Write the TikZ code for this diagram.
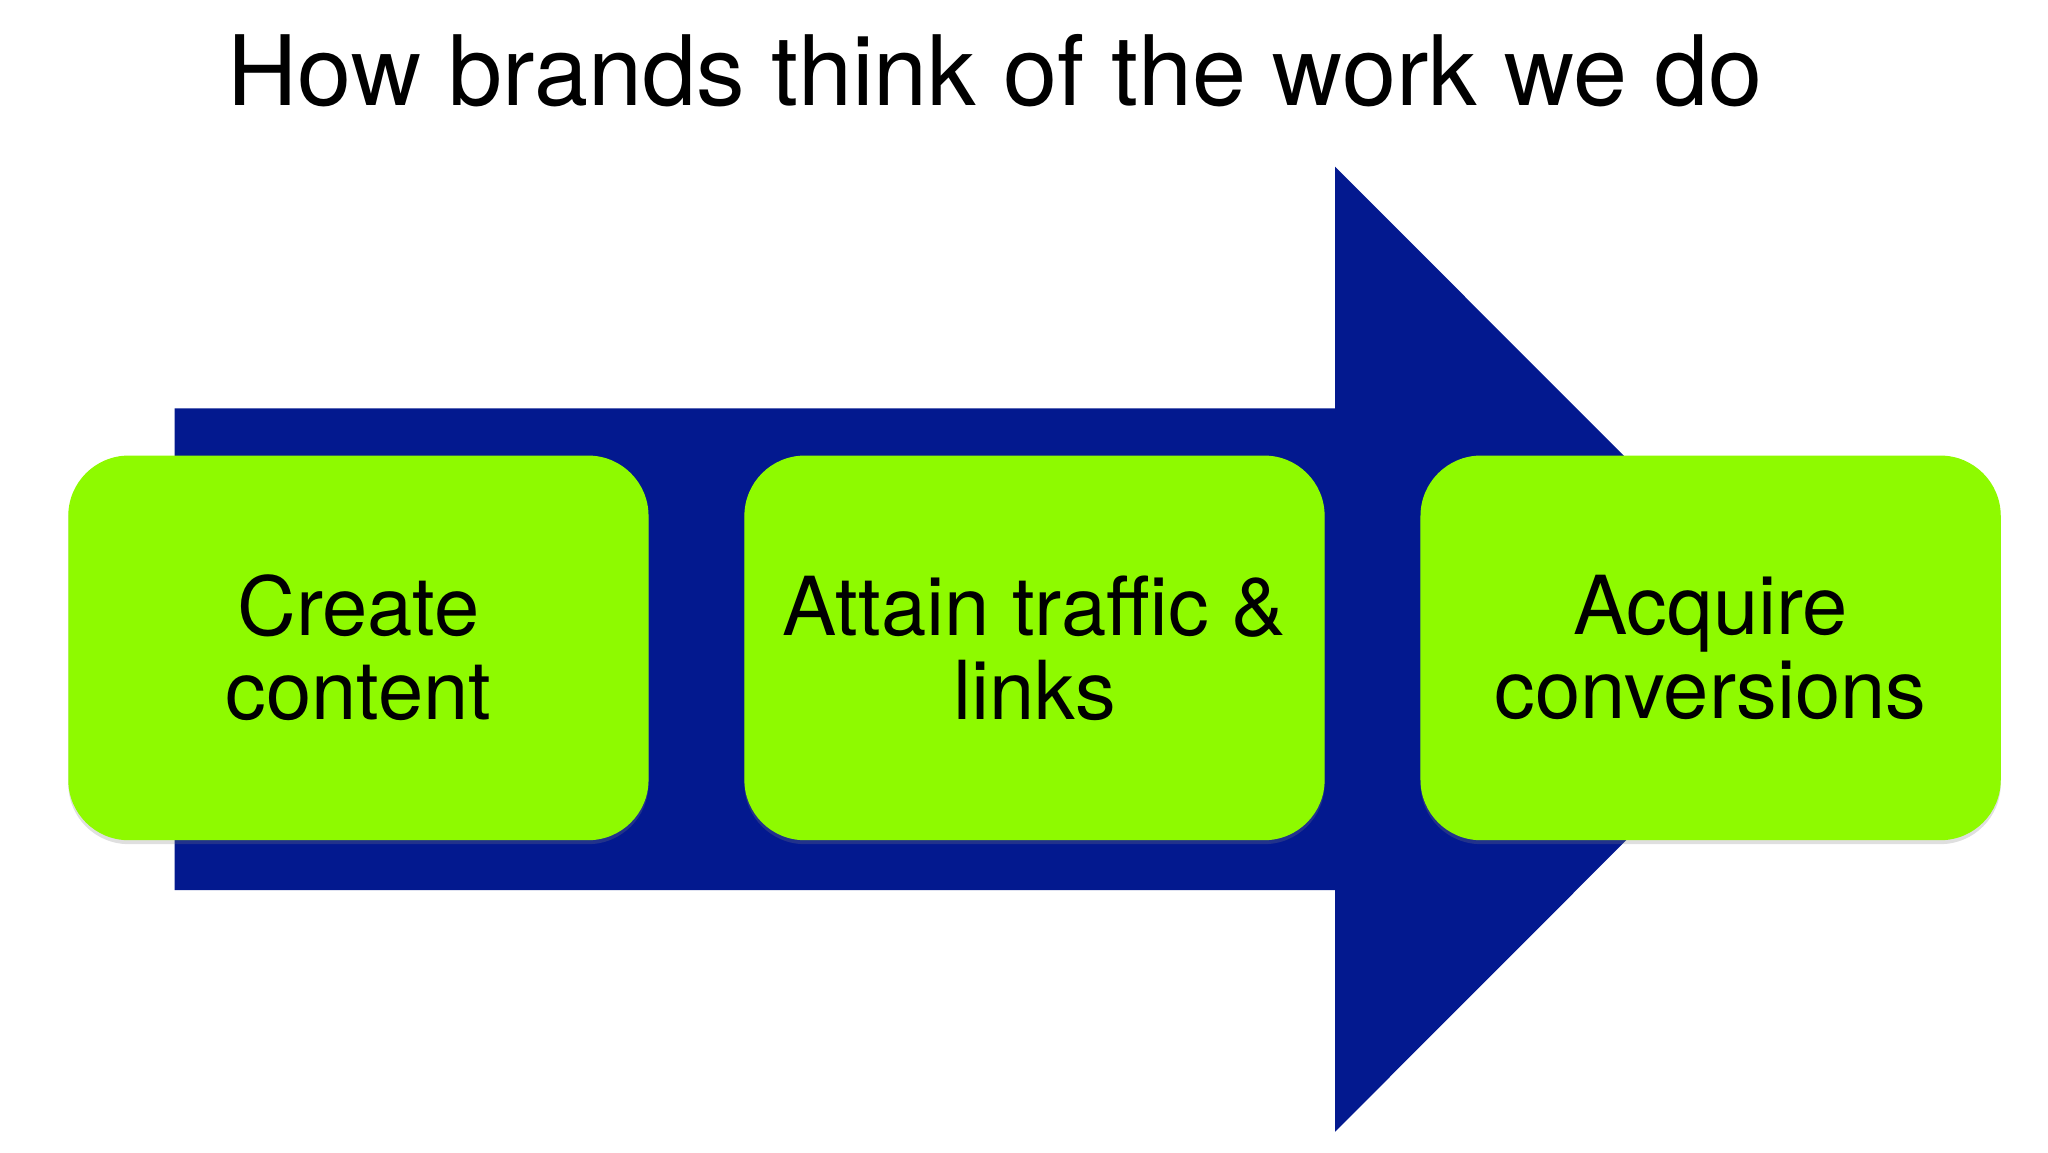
\documentclass[tikz,border=0pt]{standalone}
\usepackage{fontspec}
\setmainfont{TeX Gyre Heros}
\usetikzlibrary{shadows}
\definecolor{arrowblue}{HTML}{03198F}
\definecolor{boxgreen}{HTML}{8EFA00}
\tikzset{
  stepbox/.style={fill=boxgreen, rounded corners=46pt, minimum width=442pt, minimum height=293pt,
    inner sep=0pt, align=center, font=\fontsize{62}{64}\selectfont,
    drop shadow={shadow xshift=0pt, shadow yshift=-3pt, opacity=0.25}}
}
\begin{document}
\begin{tikzpicture}[x=1pt,y=-1pt]
\useasboundingbox (0,0) rectangle (1560,878);
\fill[arrowblue] (133,311) -- (1017,311) -- (1017,127) -- (1384,494.5) -- (1017,862) -- (1017,678) -- (133,678) -- cycle;
\node[anchor=base west, font=\fontsize{74}{76}\selectfont] (title) at (170,80) {How brands think of the work we do};
\node[stepbox] (b1) at (273,493.5) {Create\\content};
\node[stepbox] (b2) at (788,493.5) {Attain traffic \&\\links};
\node[stepbox] (b3) at (1303,493.5) {Acquire\\conversions};
\end{tikzpicture}
\end{document}
